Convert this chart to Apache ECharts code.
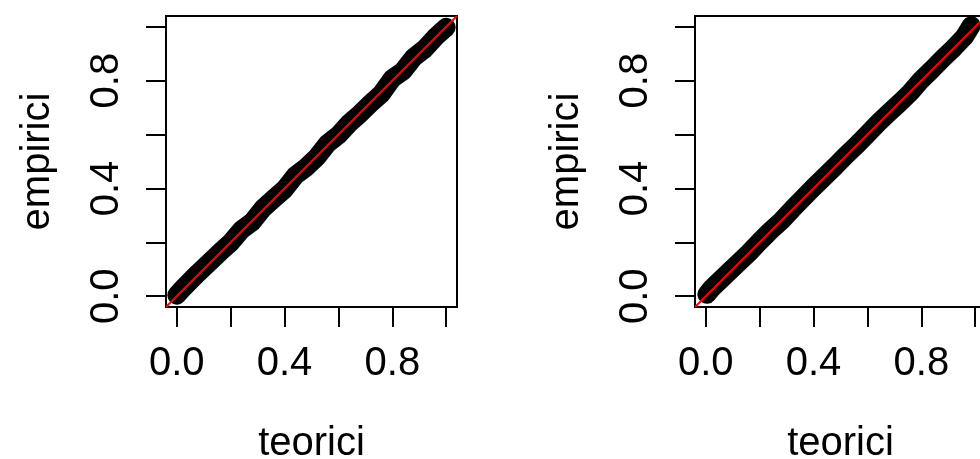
<!DOCTYPE html>
<html>
<head>
<meta charset="utf-8">
<script src="https://cdn.jsdelivr.net/npm/echarts@6/dist/echarts.min.js"></script>
<style>
  html, body { margin: 0; padding: 0; background: #fff; }
  #qq { width: 980px; height: 459px; }
</style>
</head>
<body>
<div id="qq"></div>
<script>
// quantili teorici / empirici
var teoriciSx = [0, 0.02, 0.05, 0.08, 0.12, 0.16, 0.20, 0.24, 0.28, 0.32, 0.36, 0.40, 0.44, 0.48, 0.52, 0.56, 0.60, 0.64, 0.68, 0.72, 0.76, 0.80, 0.84, 0.88, 0.92, 0.96, 1.00];
var empiriciSx = [0.004, 0.026, 0.057, 0.087, 0.125, 0.163, 0.199, 0.246, 0.276, 0.326, 0.362, 0.397, 0.448, 0.478, 0.516, 0.567, 0.598, 0.642, 0.677, 0.716, 0.752, 0.808, 0.836, 0.887, 0.918, 0.962, 0.998];
var teoriciDx = [0.004, 0.02, 0.05, 0.08, 0.12, 0.16, 0.20, 0.24, 0.28, 0.32, 0.36, 0.40, 0.44, 0.48, 0.52, 0.56, 0.60, 0.64, 0.68, 0.72, 0.76, 0.80, 0.84, 0.88, 0.92, 0.96, 0.985];
var empiriciDx = [0.007, 0.027, 0.056, 0.085, 0.123, 0.161, 0.203, 0.243, 0.279, 0.322, 0.363, 0.404, 0.443, 0.482, 0.523, 0.561, 0.602, 0.643, 0.681, 0.718, 0.757, 0.803, 0.842, 0.883, 0.921, 0.963, 1.004];

var tickValues = [0, 0.2, 0.4, 0.6, 0.8, 1.0];
var labelValues = [0, 0.4, 0.8];
var axisMin = -0.04, axisMax = 1.04; // estensione 4% come in R

var font = 'Liberation Sans, Arial, Helvetica, sans-serif';

function coppie(xs, ys) {
    return xs.map(function (x, i) { return [x, ys[i]]; });
}

function asse(tipo, idx) {
    var isX = tipo === 'x';
    return {
        type: 'value',
        gridIndex: idx,
        min: axisMin,
        max: axisMax,
        name: isX ? 'teorici' : 'empirici',
        nameLocation: 'middle',
        nameGap: isX ? 117 : 108,
        nameTextStyle: { fontFamily: font, fontSize: 40, color: '#000' },
        axisLine: { show: true, onZero: false, lineStyle: { color: '#000', width: 2 } },
        axisTick: {
            show: true,
            inside: false,
            length: 20,
            customValues: tickValues,
            lineStyle: { color: '#000', width: 2 }
        },
        axisLabel: {
            show: true,
            customValues: labelValues,
            rotate: isX ? 0 : 90,
            margin: isX ? 37 : 39,
            fontFamily: font,
            fontSize: 40,
            color: '#000',
            formatter: function (v) { return v.toFixed(1); }
        },
        splitLine: { show: false }
    };
}

function banda(idx, xs, ys) {
    return {
        type: 'line',
        xAxisIndex: idx,
        yAxisIndex: idx,
        data: coppie(xs, ys),
        showSymbol: false,
        symbol: 'none',
        silent: true,
        clip: false,
        lineStyle: { color: '#000', width: 19, cap: 'round', join: 'round' },
        z: 2
    };
}

function bisettrice(idx) {
    return {
        type: 'line',
        xAxisIndex: idx,
        yAxisIndex: idx,
        data: [[axisMin, axisMin], [axisMax, axisMax]],
        symbol: 'none',
        silent: true,
        lineStyle: { color: '#ff0000', width: 2 },
        z: 3
    };
}

var myChart = echarts.init(document.getElementById('qq'), null, { renderer: 'canvas' });
var option = {
    animation: false,
    backgroundColor: '#fff',
    grid: [
        { left: 166, top: 16, width: 291, height: 291, outerBoundsMode: 'none', show: true, borderColor: '#000', borderWidth: 2, backgroundColor: 'transparent' },
        { left: 695, top: 16, width: 291, height: 291, outerBoundsMode: 'none', show: true, borderColor: '#000', borderWidth: 2, backgroundColor: 'transparent' }
    ],
    xAxis: [asse('x', 0), asse('x', 1)],
    yAxis: [asse('y', 0), asse('y', 1)],
    series: [
        banda(0, teoriciSx, empiriciSx),
        bisettrice(0),
        banda(1, teoriciDx, empiriciDx),
        bisettrice(1)
    ]
};
myChart.setOption(option);
</script>
</body>
</html>
